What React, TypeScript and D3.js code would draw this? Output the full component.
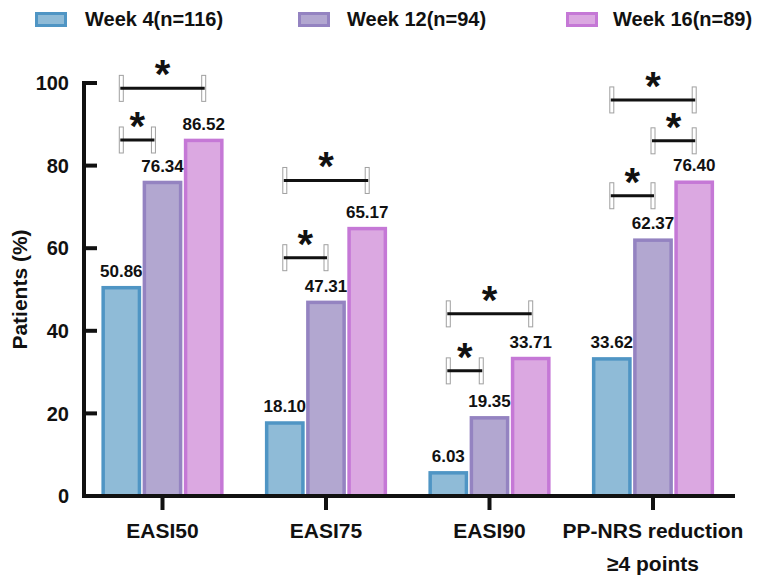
import React from "react";
import * as d3 from "d3";

const categories = ["EASI50", "EASI75", "EASI90", "PP-NRS reduction\n≥4 points"];
const seriesNames = ["Week 4(n=116)", "Week 12(n=94)", "Week 16(n=89)"];
const week4 = [50.86, 18.1, 6.03, 33.62];
const week12 = [76.34, 47.31, 19.35, 62.37];
const week16 = [86.52, 65.17, 33.71, 76.4];
const yTicks = [0, 20, 40, 60, 80, 100];

// significance brackets: group index, from bar, to bar (bar units), level (%)
const bracketGroup = [0, 0, 1, 1, 2, 2, 3, 3, 3];
const bracketFrom = [0, 0, 0, 0, 0, 0, 0, 1, 0];
const bracketTo = [2, 0.78, 2, 1, 2, 0.8, 2, 2, 1];
const bracketLevel = [98.7, 86.2, 76.4, 57.7, 44.1, 30.3, 95.9, 86.0, 72.7];

const fills = ["#8fbbd7", "#b2a7d0", "#dba8e1"];
const strokes = ["#4f95c4", "#9483c1", "#c578d6"];

export default function App() {
  const W = 758;
  const H = 575;
  const values = [week4, week12, week16];
  const y = d3.scaleLinear().domain([0, 100]).range([496, 83]);
  const x0 = d3.scaleBand<string>().domain(categories).range([80.75, 734.75]);
  const x1 = d3
    .scaleBand<string>()
    .domain(seriesNames)
    .range([-61.5, 61.5])
    .paddingInner(0.035)
    .paddingOuter(0.01);
  const bw = x1.bandwidth();
  const barCenter = (g: number, b: number) => {
    const gc = (x0(categories[g]) ?? 0) + x0.bandwidth() / 2;
    const c0 = (x1(seriesNames[0]) ?? 0) + bw / 2;
    const c1 = (x1(seriesNames[1]) ?? 0) + bw / 2;
    return gc + c0 + b * (c1 - c0);
  };
  const sw = 3.5;
  const font = "Liberation Sans, Arial, sans-serif";
  const axisX = 84;
  const axisY = 496;

  return (
    <svg width={W} height={H} style={{ position: "absolute", left: 0, top: 0, background: "#fff" }} fontFamily={font}>
      <rect x={0} y={0} width={W} height={H} fill="#fff" />
      {/* legend */}
      {seriesNames.map((s, i) => {
        const lx = [35, 298, 566][i];
        const tx = [85, 347, 613][i];
        return (
          <g key={s}>
            <rect x={lx + 1.5} y={13.5} width={29} height={12} fill={fills[i]} stroke={strokes[i]} strokeWidth={3} />
            <text x={tx} y={19} dy="0.35em" fontSize={20} fontWeight="bold" fill="#111">
              {s}
            </text>
          </g>
        );
      })}

      {/* bars */}
      {categories.map((c, g) =>
        seriesNames.map((s, i) => {
          const v = values[i][g];
          const bx = (x0(c) ?? 0) + x0.bandwidth() / 2 + (x1(s) ?? 0);
          const top = y(v);
          return (
            <g key={c + s}>
              <rect
                x={bx + sw / 2}
                y={top + sw / 2}
                width={bw - sw}
                height={axisY - top - sw / 2}
                fill={fills[i]}
                stroke={strokes[i]}
                strokeWidth={sw}
              />
              <text x={bx + bw / 2} y={top - 9} textAnchor="middle" fontSize={17} fontWeight="bold" fill="#111">
                {v.toFixed(2)}
              </text>
            </g>
          );
        })
      )}

      {/* brackets */}
      {bracketGroup.map((g, k) => {
        const xa = barCenter(g, bracketFrom[k]);
        const xb = barCenter(g, bracketTo[k]);
        const ly = y(bracketLevel[k]);
        return (
          <g key={"br" + k}>
            <rect x={xa - 2} y={ly - 13} width={4} height={26} fill="#fff" stroke="#a0a0a0" strokeWidth={1} />
            <rect x={xb - 2} y={ly - 13} width={4} height={26} fill="#fff" stroke="#a0a0a0" strokeWidth={1} />
            <line x1={xa - 1} x2={xb + 1} y1={ly} y2={ly} stroke="#111" strokeWidth={3} />
            <text x={(xa + xb) / 2} y={ly} textAnchor="middle" fontSize={40} fontWeight="bold" fill="#111">
              *
            </text>
          </g>
        );
      })}

      {/* axes */}
      <line x1={axisX} x2={axisX} y1={y(100) - 2} y2={axisY + 2} stroke="#111" strokeWidth={4} />
      {yTicks.map((t) => (
        <g key={"yt" + t}>
          <line x1={axisX} x2={axisX + 13} y1={y(t)} y2={y(t)} stroke="#111" strokeWidth={4} />
          <text x={69} y={y(t)} dy="0.36em" textAnchor="end" fontSize={20} fontWeight="bold" fill="#111">
            {t}
          </text>
        </g>
      ))}
      <line x1={axisX - 2} x2={735} y1={axisY} y2={axisY} stroke="#111" strokeWidth={4} />
      {categories.map((c) => {
        const cx = (x0(c) ?? 0) + x0.bandwidth() / 2;
        const lines = c.split("\n");
        return (
          <g key={"xt" + c}>
            <line x1={cx} x2={cx} y1={axisY} y2={axisY + 14} stroke="#111" strokeWidth={4} />
            {lines.map((l, j) => (
              <text key={j} x={cx} y={531 + j * 33} dy="0.35em" textAnchor="middle" fontSize={21} fontWeight="bold" fill="#111">
                {l}
              </text>
            ))}
          </g>
        );
      })}
      <text
        transform={`translate(20,${y(50)}) rotate(-90)`}
        textAnchor="middle"
        dy="0.35em"
        fontSize={21}
        fontWeight="bold"
        fill="#111"
      >
        Patients (%)
      </text>
    </svg>
  );
}
